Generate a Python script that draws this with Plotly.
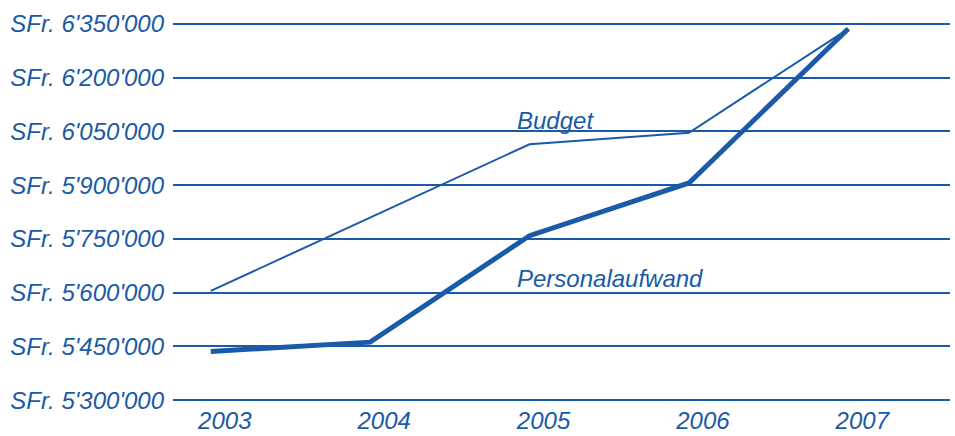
import plotly.graph_objects as go

years = [2003, 2004, 2005, 2006, 2007]
budget = [5605000, None, 6014000, 6046000, 6336000]
personalaufwand = [5436000, 5462000, 5759000, 5906000, 6336000]
y_tickvals = [5300000, 5450000, 5600000, 5750000, 5900000, 6050000, 6200000, 6350000]
y_ticktext = ["SFr. 5'300'000", "SFr. 5'450'000", "SFr. 5'600'000", "SFr. 5'750'000",
              "SFr. 5'900'000", "SFr. 6'050'000", "SFr. 6'200'000", "SFr. 6'350'000"]
x_ticktext = ["2003", "2004", "2005", "2006", "2007"]

BLUE = "#1a5aa6"
FONT = dict(family="Liberation Sans, Arial, sans-serif", size=24, color=BLUE, style="italic")

fig = go.Figure()
fig.add_trace(go.Scatter(x=years, y=budget, mode="lines", connectgaps=True,
                         line=dict(color=BLUE, width=2), name="Budget"))
fig.add_trace(go.Scatter(x=years, y=personalaufwand, mode="lines",
                         line=dict(color=BLUE, width=5), name="Personalaufwand"))

fig.add_annotation(x=2004.91, y=6080000, text="Budget", showarrow=False,
                   xanchor="left", yanchor="middle", font=FONT)
fig.add_annotation(x=2004.91, y=5640000, text="Personalaufwand", showarrow=False,
                   xanchor="left", yanchor="middle", font=FONT)

fig.update_layout(
    width=955, height=436,
    margin=dict(l=173, r=5, t=22, b=34, autoexpand=False),
    paper_bgcolor="white", plot_bgcolor="white",
    showlegend=False,
    font=FONT,
)
fig.update_xaxes(range=[2002.763, 2007.638], tickvals=years, ticktext=x_ticktext,
                 showgrid=False, zeroline=False, showline=False, automargin=False,
                 ticks="", ticklabelshift=14, ticklabelstandoff=2, tickfont=FONT)
fig.update_yaxes(range=[5295000, 6355000], tickvals=y_tickvals, ticktext=y_ticktext,
                 showgrid=True, gridcolor=BLUE, gridwidth=1.5, zeroline=False,
                 showline=False, automargin=False,
                 ticks="", ticklabelstandoff=8, tickfont=FONT)

fig.write_html("out.html", config={"displayModeBar": False},
               post_script="document.body.style.margin='0';document.body.style.overflow='hidden';")
